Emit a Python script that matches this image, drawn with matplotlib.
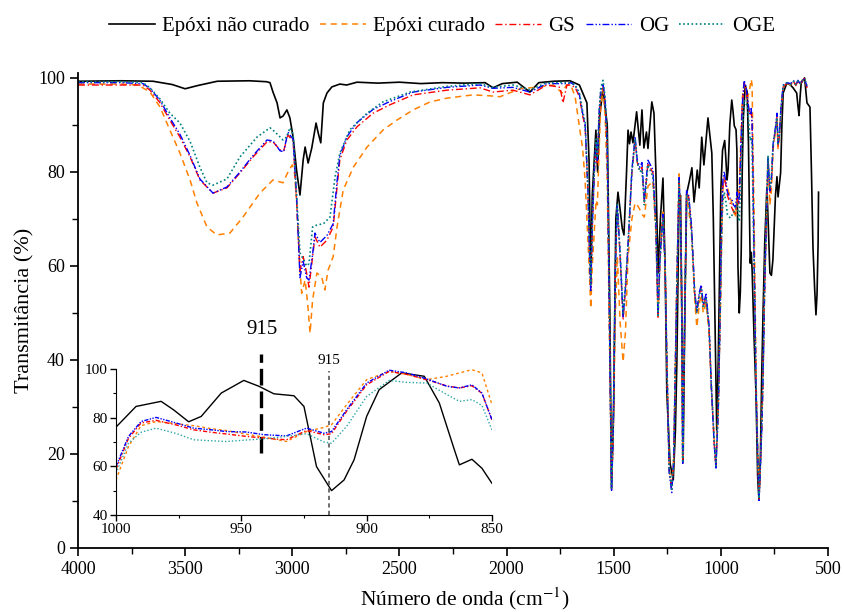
import matplotlib
matplotlib.use("Agg")
import matplotlib.pyplot as plt
from matplotlib.ticker import MultipleLocator

plt.rcParams['font.family'] = ['Liberation Serif', 'DejaVu Serif']
plt.rcParams['mathtext.fontset'] = 'stix'

# ---- Epóxi não curado (preto) ----
black_wn = [4000, 3800, 3650, 3560, 3500, 3440, 3350, 3200, 3120, 3104, 3090, 3071, 3057, 3043,
            3025, 3011, 2996, 2980, 2964, 2949, 2940, 2926, 2909, 2889, 2879, 2867, 2855, 2838,
            2815, 2778, 2746, 2698, 2600, 2500, 2400, 2300, 2200, 2100, 2063, 2020, 1950, 1891,
            1850, 1780, 1704, 1660, 1625, 1615, 1607, 1600, 1583, 1575, 1565, 1550, 1530, 1518,
            1510, 1500, 1490, 1480, 1470, 1460, 1452, 1440, 1433, 1426, 1419, 1410, 1393, 1378,
            1368, 1359, 1347, 1340, 1322, 1312, 1303, 1293, 1282, 1270, 1260, 1252, 1237, 1222,
            1212, 1205, 1195, 1188, 1182, 1176, 1168, 1159, 1147, 1135, 1125, 1110, 1101, 1089,
            1079, 1060, 1042, 1035, 1027, 1019, 1012, 1005]
black_t = [99.3, 99.4, 99.3, 98.6, 97.7, 98.4, 99.3, 99.4, 99.2, 99.0, 97.0, 94.7, 91.5, 91.9,
           93.2, 91.5, 87.4, 80.4, 75.1, 82.6, 85.3, 81.9, 85.1, 90.4, 88.3, 86.2, 94.7, 96.8,
           98.1, 98.7, 98.5, 99.1, 98.9, 99.1, 98.8, 99.0, 98.9, 99.0, 97.9, 98.8, 99.1, 97.0,
           99.0, 99.3, 99.4, 98.5, 94.7, 82.5, 57.0, 75.0, 88.9, 80.0, 92.0, 97.8, 90.0, 50.0,
           13.0, 30.0, 70.0, 75.7, 72.0, 68.0, 66.6, 80.0, 88.9, 86.0, 88.5, 86.2, 92.8, 85.7,
           93.2, 85.1, 88.5, 85.0, 94.9, 92.5, 80.0, 58.5, 70.0, 78.7, 60.0, 33.0, 18.0, 14.5,
           25.0, 40.0, 74.0, 75.0, 50.0, 18.7, 50.0, 75.5, 78.0, 80.9, 73.6, 80.4, 76.6, 87.4,
           81.5, 91.5, 84.0, 70.0, 47.0, 25.1, 40.0, 62.0]
black_ins_wn = [1000, 992, 982, 977, 971, 966, 958, 949, 943, 937, 929, 925, 920, 914, 909, 905,
                900, 895, 886, 877, 871, 865, 863, 858, 854, 850]
black_ins_t = [76.1, 84.6, 86.7, 83.2, 78.3, 80.5, 90.1, 95.3, 92.9, 89.8, 89.0, 84.6, 59.9, 50.0,
               54.4, 62.7, 80.5, 91.5, 98.4, 97.0, 86.0, 66.8, 60.6, 62.9, 59.2, 53.0]
black_low_wn = [845, 836, 828, 822, 815, 809, 803, 795, 785, 778, 771, 764, 757, 745, 738, 733,
                721, 715, 709, 692, 675, 663, 646, 640, 635, 630, 625, 609, 598, 584, 577, 570,
                562, 556, 551, 546, 544]
black_low_t = [45.0, 33.0, 15.0, 10.2, 20.0, 37.0, 50.0, 65.0, 76.8, 68.0, 58.5, 58.0, 61.3, 75.0,
               79.0, 74.7, 79.8, 90.0, 96.8, 98.9, 98.5, 97.9, 96.8, 94.0, 92.0, 96.0, 98.9, 100.0,
               94.7, 93.8, 80.0, 64.0, 55.0, 49.6, 54.0, 65.0, 75.7]

# ---- Epóxi curado (laranja) ----
cur_wn = [4000, 3800, 3720, 3664, 3617, 3571, 3524, 3477, 3445, 3398, 3352, 3291, 3230, 3151,
          3090, 3043, 3020, 3000, 2990, 2980, 2965, 2956, 2940, 2928, 2917, 2905, 2885, 2863,
          2848, 2833, 2809, 2791, 2762, 2715, 2651, 2577, 2513, 2436, 2357, 2279, 2157, 2078,
          2031, 1937, 1844, 1780, 1741, 1720]
cur_t = [98.7, 98.7, 98.5, 97.0, 93.8, 88.9, 84.0, 78.3, 73.4, 68.3, 66.6, 67.0, 70.4, 75.5,
         78.3, 77.7, 80.0, 81.5, 80.0, 74.0, 60.0, 54.2, 57.0, 52.0, 45.7, 52.8, 58.5, 57.7,
         54.9, 59.1, 62.0, 68.3, 76.2, 81.0, 85.3, 88.9, 91.0, 93.2, 94.9, 95.7, 96.4, 96.2,
         96.0, 97.7, 98.1, 98.5, 96.8, 98.5]

# ---- GS (vermelho) ----
gs_wn = [4000, 3800, 3697, 3664, 3617, 3571, 3524, 3477, 3431, 3370, 3305, 3244, 3183, 3118,
         3090, 3057, 3040, 3020, 3005, 2996, 2980, 2964, 2949, 2933, 2922, 2905, 2894, 2871,
         2838, 2809, 2791, 2778, 2745, 2698, 2623, 2544, 2436, 2279, 2124, 2063, 1970, 1891,
         1812, 1750, 1737, 1718]
gs_t = [98.5, 98.5, 98.5, 97.4, 94.7, 91.0, 87.4, 83.2, 78.3, 75.5, 76.6, 79.8, 83.2, 86.4,
        86.4, 84.7, 84.5, 87.9, 87.0, 86.5, 74.0, 59.0, 62.0, 58.5, 55.5, 62.0, 66.2, 64.0,
        65.5, 68.3, 76.8, 82.6, 86.8, 89.6, 92.5, 94.3, 96.4, 97.4, 97.9, 97.0, 97.4, 96.4,
        98.5, 98.0, 94.7, 98.5]

# ---- OG (azul) ----
og_wn = [4000, 3800, 3697, 3664, 3617, 3571, 3524, 3477, 3431, 3370, 3305, 3244, 3183, 3118,
         3090, 3057, 3040, 3020, 3005, 2996, 2980, 2964, 2949, 2933, 2922, 2905, 2894, 2871,
         2838, 2809, 2791, 2778, 2745, 2698, 2623, 2544, 2436, 2279, 2124, 2063, 1970, 1891,
         1812, 1750, 1718]
og_t = [99.0, 99.0, 98.8, 97.8, 95.2, 91.5, 88.0, 83.5, 78.5, 75.5, 76.8, 80.0, 83.5, 86.8,
        86.6, 84.5, 84.3, 88.5, 87.5, 87.0, 75.0, 57.5, 61.0, 57.5, 57.0, 62.5, 67.0, 65.0,
        66.5, 69.0, 78.0, 83.5, 87.5, 90.5, 93.3, 95.0, 97.0, 98.0, 98.5, 97.8, 98.0, 97.0,
        98.8, 98.8, 98.8]

# ---- OGE (verde-azulado) ----
oge_wn = [4000, 3800, 3697, 3664, 3617, 3571, 3524, 3477, 3431, 3398, 3370, 3305, 3244, 3165,
          3104, 3080, 3043, 3025, 3011, 2996, 2980, 2964, 2949, 2933, 2922, 2905, 2885, 2854,
          2824, 2800, 2778, 2731, 2651, 2577, 2450, 2279, 2124, 2063, 1970, 1891, 1812, 1750,
          1718]
oge_t = [99.2, 99.2, 99.0, 97.9, 95.5, 92.5, 90.4, 86.5, 81.0, 77.7, 77.2, 78.5, 83.2, 87.4,
         89.4, 88.5, 86.8, 87.5, 89.4, 88.0, 75.0, 62.8, 61.5, 60.0, 60.5, 68.3, 68.7, 69.0,
         70.4, 79.0, 84.0, 89.0, 92.5, 94.9, 97.0, 98.2, 98.8, 98.0, 98.5, 97.5, 99.0, 99.0,
         99.0]

# região de impressão digital (1700-1005 cm-1), amostras curadas
fp_wn = [1700, 1680, 1660, 1645, 1633, 1620, 1612, 1607, 1600, 1590, 1582, 1576, 1568, 1560,
         1550, 1540, 1530, 1520, 1510, 1502, 1492, 1483, 1470, 1456, 1445, 1433, 1415, 1400,
         1390, 1378, 1368, 1357, 1340, 1317, 1303, 1293, 1284, 1270, 1260, 1252, 1241, 1229,
         1220, 1206, 1195, 1188, 1183, 1178, 1169, 1160, 1150, 1137, 1122, 1112, 1100, 1091,
         1082, 1069, 1055, 1045, 1031, 1023, 1012, 1005]
cur_fp = [98.5, 96.0, 89.6, 85.0, 78.0, 65.0, 57.0, 51.0, 60.0, 68.0, 74.0, 73.0, 85.0, 94.0,
          97.5, 92.0, 78.0, 45.0, 14.0, 25.0, 50.0, 62.0, 48.0, 39.6, 46.0, 62.0, 70.0, 73.4,
          73.0, 72.0, 71.0, 70.4, 77.0, 78.0, 67.0, 49.0, 62.0, 72.0, 60.0, 40.0, 17.0, 12.8,
          19.0, 55.0, 79.6, 70.0, 54.0, 19.0, 47.0, 75.0, 72.0, 67.0, 53.0, 47.0, 52.0, 54.0,
          50.0, 52.0, 46.0, 35.0, 23.0, 18.0, 30.0, 45.0]
gs_fp = [98.5, 98.0, 96.0, 92.0, 89.6, 75.5, 62.0, 55.0, 68.0, 80.0, 86.0, 82.0, 92.0, 97.0,
         98.5, 95.0, 85.0, 50.0, 12.5, 25.0, 60.0, 72.6, 62.0, 48.5, 55.0, 64.0, 79.8, 86.8,
         82.0, 80.4, 81.0, 73.4, 81.9, 79.8, 68.3, 49.1, 61.3, 70.4, 60.0, 40.0, 16.6, 12.3,
         18.7, 54.2, 78.3, 70.0, 54.0, 18.0, 47.0, 75.5, 74.7, 68.3, 54.2, 50.0, 54.0, 55.5,
         51.3, 53.4, 47.0, 35.0, 22.3, 17.2, 29.4, 45.0]
og_fp = [99.0, 98.4, 96.5, 92.5, 90.0, 76.0, 61.0, 54.5, 68.5, 80.5, 86.5, 82.5, 92.5, 97.5,
         98.8, 95.5, 85.0, 49.0, 12.0, 25.0, 60.0, 73.0, 62.5, 49.0, 55.5, 64.5, 80.5, 87.5,
         82.5, 81.0, 82.0, 74.0, 82.5, 80.5, 68.8, 49.5, 61.8, 71.0, 60.5, 40.0, 16.0, 11.8,
         18.5, 54.5, 78.8, 70.5, 54.5, 18.0, 47.5, 76.0, 75.0, 68.8, 54.5, 50.5, 54.5, 56.0,
         51.8, 54.0, 47.5, 35.0, 22.0, 17.0, 29.0, 45.5]
oge_fp = [99.0, 98.5, 96.8, 93.0, 90.5, 76.5, 62.5, 56.0, 69.0, 81.0, 87.0, 83.0, 93.0, 98.0,
          99.5, 96.0, 86.0, 51.0, 12.8, 26.0, 61.0, 73.0, 63.0, 50.0, 56.0, 65.0, 80.0, 87.0,
          82.0, 80.0, 80.5, 73.0, 81.5, 79.0, 68.0, 49.5, 61.0, 70.0, 60.0, 40.5, 17.0, 12.5,
          19.0, 54.0, 78.0, 70.0, 54.0, 18.5, 47.0, 75.0, 74.0, 67.5, 54.0, 50.0, 54.0, 55.0,
          51.0, 53.0, 47.0, 35.5, 23.0, 17.5, 29.5, 45.0]

# região do detalhe (1000-850 cm-1), amostras curadas
ins_wn = [1000, 995, 990, 984, 976, 969, 962, 956, 948, 941, 932, 924, 917, 914, 908, 900, 891,
          884, 876, 868, 863, 858, 854, 850]
cur_ins = [54.4, 68.1, 76.7, 78.4, 77.5, 76.7, 75.5, 74.7, 73.2, 72.0, 70.2, 74.3, 76.0, 77.1,
           85.3, 95.6, 99.0, 97.8, 95.6, 97.0, 98.4, 99.7, 98.4, 85.3]
gs_ins = [58.8, 71.5, 77.8, 78.9, 77.0, 75.0, 74.0, 73.3, 72.3, 71.6, 70.9, 74.7, 73.0, 73.4,
          82.6, 93.5, 99.0, 97.8, 95.6, 93.0, 92.2, 93.1, 90.0, 79.1]
og_ins = [59.9, 72.3, 78.4, 80.1, 77.8, 75.7, 75.0, 74.3, 74.1, 73.0, 72.5, 75.7, 73.6, 74.3,
          83.2, 94.2, 99.5, 98.4, 95.9, 92.9, 92.2, 93.5, 90.1, 79.1]
oge_ins = [57.2, 69.5, 74.0, 75.7, 73.5, 70.9, 70.5, 70.2, 70.8, 71.3, 72.3, 73.4, 70.0, 69.5,
           76.4, 88.7, 95.3, 94.5, 94.2, 89.5, 86.7, 87.4, 85.0, 75.0]

# região de baixo número de onda (845-598 cm-1), amostras curadas
low_wn = [845, 842, 836, 831, 822, 815, 809, 803, 796, 787, 780, 771, 764, 756, 745, 738, 733,
          726, 719, 709, 700, 690, 675, 660, 650, 640, 630, 620, 609, 598]
cur_low = [72.0, 60.0, 38.0, 26.0, 11.0, 18.0, 26.0, 37.0, 55.0, 70.0, 83.0, 73.0, 76.0, 85.0,
           89.0, 91.0, 85.0, 88.0, 93.5, 98.0, 98.8, 99.0, 98.5, 99.4, 98.5, 99.5, 98.8, 99.5,
           99.6, 98.0]
gs_low = [62.0, 54.0, 35.0, 25.7, 10.2, 18.0, 25.7, 36.4, 54.0, 69.8, 82.6, 75.5, 78.0, 85.3,
          89.0, 91.7, 85.3, 88.0, 93.2, 98.0, 98.5, 98.9, 98.5, 99.2, 98.4, 99.3, 98.6, 99.4,
          100.0, 97.9]
og_low = [62.5, 54.5, 35.0, 25.0, 9.8, 17.5, 25.5, 36.0, 54.5, 70.5, 83.0, 76.0, 78.5, 86.0,
          89.5, 92.5, 86.0, 88.5, 94.0, 98.5, 98.8, 99.0, 98.8, 99.4, 98.5, 99.5, 98.8, 99.5,
          99.8, 98.2]
oge_low = [60.0, 53.0, 35.0, 25.5, 10.5, 18.0, 26.0, 36.5, 55.0, 71.0, 83.5, 76.5, 79.0, 86.0,
           89.0, 91.5, 86.0, 88.0, 93.5, 98.2, 98.8, 99.0, 98.6, 99.3, 98.6, 99.4, 98.8, 99.5,
           99.7, 98.5]

# montagem das curvas completas
series = [
    ("Epóxi não curado", black_wn + black_ins_wn + black_low_wn,
     black_t + black_ins_t + black_low_t, "black", "-", 1.2),
    ("Epóxi curado", cur_wn + fp_wn + ins_wn + low_wn,
     cur_t + cur_fp + cur_ins + cur_low, "#FF8000", (0, (4, 3)), 1.1),
    ("GS", gs_wn + fp_wn + ins_wn + low_wn,
     gs_t + gs_fp + gs_ins + gs_low, "#FF0000", (0, (5, 2, 1, 2)), 1.0),
    ("OG", og_wn + fp_wn + ins_wn + low_wn,
     og_t + og_fp + og_ins + og_low, "#0000FF", (0, (5, 1.5, 1, 1.5, 1, 1.5)), 1.0),
    ("OGE", oge_wn + fp_wn + ins_wn + low_wn,
     oge_t + oge_fp + oge_ins + oge_low, "#008080", (0, (1, 1.5)), 1.2),
]
inset_series = [
    (black_ins_wn, black_ins_t, "black", "-", 1.0),
    (ins_wn, cur_ins, "#FF8000", (0, (2, 2)), 1.0),
    (ins_wn, gs_ins, "#FF0000", (0, (3, 1.5, 1, 1.5)), 1.0),
    (ins_wn, og_ins, "#0000FF", (0, (3, 1, 1, 1, 1, 1)), 1.0),
    (ins_wn, oge_ins, "#2AA5A5", (0, (1, 1.5)), 1.0),
]

fig = plt.figure(figsize=(8.44, 6.12), dpi=100)
ax = fig.add_axes([0.0924, 0.1046, 0.8886, 0.7757])

for label, wn, t, color, ls, lw in series:
    ax.plot(wn, t, color=color, ls=ls, lw=lw, label=label)

ax.set_xlim(4000, 500)
ax.set_ylim(0, 101)
ax.xaxis.set_major_locator(MultipleLocator(500))
ax.xaxis.set_minor_locator(MultipleLocator(250))
ax.yaxis.set_major_locator(MultipleLocator(20))
ax.yaxis.set_minor_locator(MultipleLocator(10))
ax.tick_params(which='major', direction='out', length=6, width=1.2, labelsize=13)
ax.tick_params(which='minor', direction='out', length=4, width=1.0)
for s in ['top', 'right']:
    ax.spines[s].set_visible(False)
for s in ['left', 'bottom']:
    ax.spines[s].set_linewidth(1.3)

ax.set_xlabel("Número de onda (cm$^{-1}$)", fontsize=15.5)
ax.set_ylabel("Transmitância (%)", fontsize=16)
ax.xaxis.set_label_coords(0.516, -0.078)
ax.yaxis.set_label_coords(-0.058, 0.5)

# marcação 915 (tracejado grosso)
ax.plot([3146, 3146], [20.2, 41.2], color='black', lw=2.4, ls=(0, (5, 1.8)))
ax.text(3141, 46.4, "915", fontsize=15, ha='center', va='center')

fig.legend(loc='center', bbox_to_anchor=(0.524, 0.957), ncol=5, frameon=False,
           fontsize=15, handlelength=2.2, handletextpad=0.35, columnspacing=0.5)

# detalhe 1000-850
axi = fig.add_axes([0.1374, 0.1585, 0.4455, 0.2386])
axi.patch.set_alpha(0)
for wn, t, color, ls, lw in inset_series:
    axi.plot(wn, t, color=color, ls=ls, lw=lw)
axi.set_xlim(1000, 850)
axi.set_ylim(40, 100)
axi.xaxis.set_major_locator(MultipleLocator(50))
axi.xaxis.set_minor_locator(MultipleLocator(25))
axi.yaxis.set_major_locator(MultipleLocator(20))
axi.yaxis.set_minor_locator(MultipleLocator(10))
axi.tick_params(which='major', direction='out', length=4, width=1.0, labelsize=11, pad=2)
axi.tick_params(which='minor', direction='out', length=2.5, width=0.8)
for s in ['top', 'right']:
    axi.spines[s].set_visible(False)
axi.plot([915, 915], [40, 99], color='#555555', lw=1.2, ls=(0, (2.5, 2)), clip_on=False)
axi.text(915, 101.0, "915", fontsize=11, ha='center', va='bottom')

fig.savefig("out.png", dpi=100)
